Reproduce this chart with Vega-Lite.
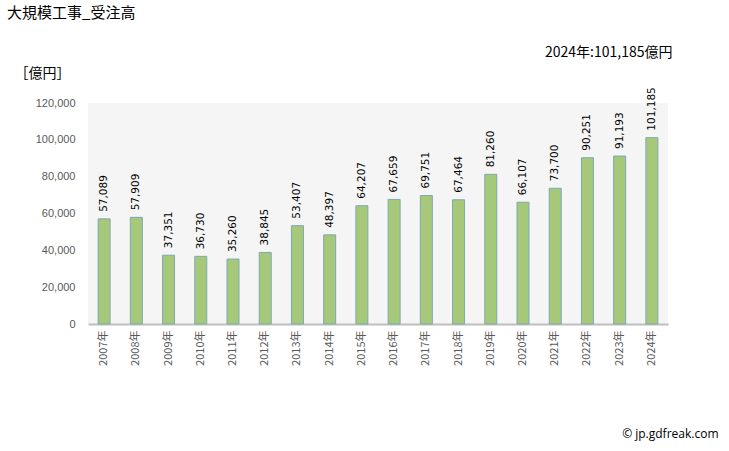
{
  "$schema": "https://vega.github.io/schema/vega-lite/v6.json",
  "autosize": {"type": "none"},
  "width": 580,
  "height": 221,
  "padding": {"left": 88, "top": 103, "right": 61, "bottom": 127},
  "background": "#ffffff",
  "config": {
    "font": "Noto Sans CJK JP",
    "view": {"fill": "#f5f5f5", "stroke": null},
    "axis": {"labelFont": "Noto Sans CJK JP", "titleFont": "Noto Sans CJK JP"}
  },
  "title": {
    "text": "大規模工事_受注高",
    "anchor": "start",
    "frame": "group",
    "font": "Noto Sans CJK JP",
    "fontSize": 15,
    "fontWeight": "normal",
    "color": "#000000",
    "dx": -81,
    "dy": -20
  },
  "data": {
    "values": [
      {"year": "2007年", "value": 57089},
      {"year": "2008年", "value": 57909},
      {"year": "2009年", "value": 37351},
      {"year": "2010年", "value": 36730},
      {"year": "2011年", "value": 35260},
      {"year": "2012年", "value": 38845},
      {"year": "2013年", "value": 53407},
      {"year": "2014年", "value": 48397},
      {"year": "2015年", "value": 64207},
      {"year": "2016年", "value": 67659},
      {"year": "2017年", "value": 69751},
      {"year": "2018年", "value": 67464},
      {"year": "2019年", "value": 81260},
      {"year": "2020年", "value": 66107},
      {"year": "2021年", "value": 73700},
      {"year": "2022年", "value": 90251},
      {"year": "2023年", "value": 91193},
      {"year": "2024年", "value": 101185}
    ]
  },
  "resolve": {"axis": {"x": "independent", "y": "independent"}},
  "layer": [
    {
      "mark": {"type": "bar", "width": 12, "fill": "#a6c979", "stroke": "#7fa7b5", "strokeWidth": 1},
      "encoding": {
        "x": {
          "field": "year", "type": "ordinal", "sort": null,
          "scale": {"paddingInner": 0.6, "paddingOuter": 0.3},
          "axis": {
            "title": "© jp.gdfreak.com", "titleFont": "Open Sans", "titleFontSize": 12, "titleFontWeight": "normal",
            "titleColor": "#000000", "titleX": 630, "titleY": 109, "titleAlign": "right", "titleBaseline": "middle", "titleAnchor": "end",
            "labelAngle": -90, "labelFontSize": 11, "labelColor": "#595959",
            "ticks": false, "domainColor": "#bfbfbf", "domainWidth": 2, "labelPadding": 6
          }
        },
        "y": {
          "field": "value", "type": "quantitative",
          "scale": {"domain": [0, 120000]},
          "axis": {
            "title": "［億円］", "titleAngle": 0, "titleAnchor": "end", "titleAlign": "left",
            "titleX": -74, "titleY": -23, "titleFontSize": 14, "titleFontWeight": "normal", "titleColor": "#000000",
            "values": [0, 20000, 40000, 60000, 80000, 100000, 120000],
            "format": ",d", "labelFont": "Liberation Sans", "labelFontSize": 11, "labelColor": "#595959", "labelPadding": 13,
            "grid": false, "ticks": false, "domain": false
          }
        }
      }
    },
    {
      "mark": {"type": "text", "angle": -90, "align": "left", "baseline": "middle", "dx": 7, "font": "DejaVu Sans", "fontSize": 10.5, "color": "#000000"},
      "encoding": {
        "x": {
          "field": "year", "type": "ordinal", "sort": null,
          "axis": {
            "orient": "top", "title": "2024年:101,185億円", "titleAnchor": "end",
            "titleFontSize": 14, "titleFontWeight": "normal", "titleColor": "#000000",
            "labels": false, "ticks": false, "domain": false, "titleX": 584, "titleY": -44, "titleAlign": "right"
          }
        },
        "y": {"field": "value", "type": "quantitative", "axis": null},
        "text": {"field": "value", "type": "quantitative", "format": ","}
      }
    }
  ]
}
